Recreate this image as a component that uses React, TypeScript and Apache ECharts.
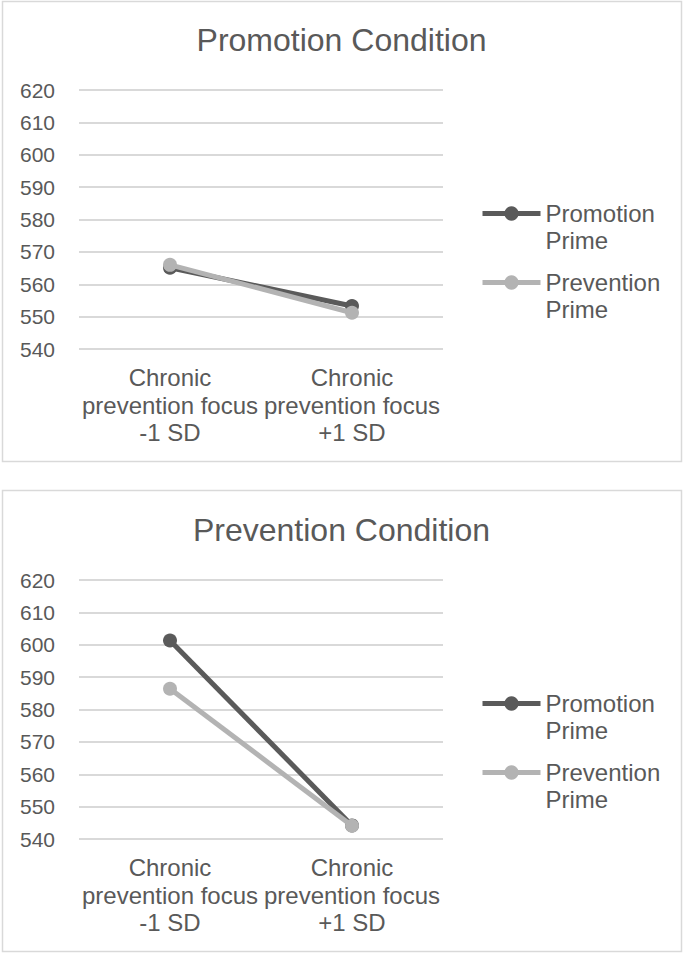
import React, { useEffect, useRef } from "react";
import * as echarts from "echarts";

// Category labels along the x axis (shared by both panels)
const categories = [
  "Chronic\nprevention focus\n-1 SD",
  "Chronic\nprevention focus\n+1 SD",
];

// Y axis scale (tick labels 540 … 620)
const yMin = 540;
const yMax = 620;
const yStep = 10;

// Panel titles
const panelTitles = ["Promotion Condition", "Prevention Condition"];

// Series names
const seriesNames = ["Promotion Prime", "Prevention Prime"];

// Promotion Condition panel
const promoCondPromotionPrime = [565.1, 553.3];
const promoCondPreventionPrime = [566.0, 551.2];

// Prevention Condition panel
const prevCondPromotionPrime = [601.3, 544.2];
const prevCondPreventionPrime = [586.4, 544.1];

const FONT = "'Liberation Sans', Arial, Helvetica, sans-serif";
const TEXT = "#595959";
const GRID_LINE = "#d9d9d9";
const DARK = "#5a5a5a";
const LIGHT = "#b3b3b3";

export default function App() {
  const ref = useRef<HTMLDivElement>(null);

  useEffect(() => {
    if (!ref.current) return;
    const chart = echarts.init(ref.current, undefined, { renderer: "svg" });

    const panelOffset = [0, 490];
    const gridTop = 90;
    const gridHeight = 259;

    const grids = panelOffset.map((dy) => ({
      left: 79,
      top: gridTop + dy,
      width: 364,
      height: gridHeight,
      containLabel: false,
    }));

    const xAxes = panelOffset.map((_, i) => ({
      type: "category",
      gridIndex: i,
      data: categories,
      axisLine: { show: false },
      axisTick: { show: false },
      axisLabel: {
        interval: 0,
        margin: 15,
        color: TEXT,
        fontFamily: FONT,
        fontSize: 24,
        lineHeight: 27.5,
        align: "center",
      },
    }));

    const yAxes = panelOffset.map((_, i) => ({
      type: "value",
      gridIndex: i,
      min: yMin,
      max: yMax,
      interval: yStep,
      axisLine: { show: false },
      axisTick: { show: false },
      axisLabel: {
        margin: 24,
        color: TEXT,
        fontFamily: FONT,
        fontSize: 21,
      },
      splitLine: { lineStyle: { color: GRID_LINE, width: 2 } },
    }));

    const panelData = [
      [promoCondPromotionPrime, promoCondPreventionPrime],
      [prevCondPromotionPrime, prevCondPreventionPrime],
    ];
    const colors = [DARK, LIGHT];

    const series: any[] = [];
    panelData.forEach((pair, p) => {
      pair.forEach((values, s) => {
        series.push({
          type: "line",
          name: seriesNames[s],
          xAxisIndex: p,
          yAxisIndex: p,
          data: values,
          symbol: "circle",
          symbolSize: 14,
          showSymbol: true,
          lineStyle: { color: colors[s], width: 5 },
          itemStyle: { color: colors[s] },
          z: 2 + s,
        });
      });
    });

    const titles = panelOffset.map((dy, i) => ({
      text: panelTitles[i],
      left: "center",
      top: 24 + dy,
      padding: 0,
      textStyle: {
        color: TEXT,
        fontFamily: FONT,
        fontSize: 32,
        fontWeight: "normal",
        lineHeight: 32,
      },
    }));

    // One legend per entry so each icon lines up with the first line of its label
    const legendTops = [173, 242];
    const legends: any[] = [];
    panelOffset.forEach((dy) => {
      seriesNames.forEach((name, s) => {
        legends.push({
          data: [name],
          left: 480,
          top: legendTops[s] + dy,
          orient: "vertical",
          padding: 0,
          itemWidth: 58,
          itemHeight: 18,
          itemGap: 0,
          selectedMode: false,
          lineStyle: { width: 5 },
          formatter: (n: string) => "\n" + n.replace(" ", "\n"),
          textStyle: {
            color: TEXT,
            fontFamily: FONT,
            fontSize: 24,
            lineHeight: 27,
          },
        });
      });
    });

    chart.setOption({
      animation: false,
      backgroundColor: "#ffffff",
      title: titles,
      legend: legends,
      grid: grids,
      xAxis: xAxes,
      yAxis: yAxes,
      series,
      graphic: [
        {
          type: "rect",
          shape: { x: 2.5, y: 1.5, width: 679, height: 460 },
          style: { fill: "none", stroke: GRID_LINE, lineWidth: 1.5 },
          silent: true,
        },
        {
          type: "rect",
          shape: { x: 2.5, y: 490.5, width: 679, height: 461 },
          style: { fill: "none", stroke: GRID_LINE, lineWidth: 1.5 },
          silent: true,
        },
      ],
    });

    return () => chart.dispose();
  }, []);

  return (
    <div
      ref={ref}
      style={{ position: "absolute", left: 0, top: 0, width: 683, height: 953 }}
    />
  );
}
